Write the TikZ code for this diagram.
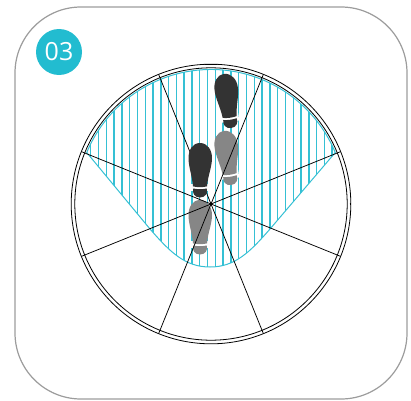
\documentclass[tikz,border=0pt]{standalone}
\usepackage{fontspec}
\setmainfont{Open Sans}
\definecolor{tealc}{HTML}{22BCD0}
\definecolor{hatchc}{HTML}{35C0D4}
\definecolor{footdark}{HTML}{333333}
\definecolor{footgrey}{HTML}{868686}
\definecolor{framec}{HTML}{9C9C9C}
\tikzset{
  x=1pt,y=1pt,
  frame/.style={draw=framec,line width=1.2pt,rounded corners=66pt},
  badge/.style={circle,fill=tealc,minimum size=46pt,inner sep=0pt,text=white},
  ringline/.style={draw=black,line width=.8pt},
  spoke/.style={draw=black,line width=.75pt},
  hatch/.style={draw=hatchc,line width=1.4pt},
  outline/.style={draw=hatchc,line width=1pt},
  pics/foot/.style={code={
    \fill[white] (-9,-41) rectangle (9,-48);
    \fill[#1] (0,0) .. controls (7.5,0) and (12,-7) .. (12,-15)
      .. controls (12,-24) and (8,-32) .. (7,-43.4)
      .. controls (3,-44.4) and (-3,-44.4) .. (-7,-43.4)
      .. controls (-8,-32) and (-11.5,-24) .. (-11.5,-15)
      .. controls (-11.5,-7) and (-7.5,0) .. (0,0) -- cycle;
    \fill[#1] (-6.8,-45.5) .. controls (-2,-46.4) and (2,-46.4) .. (6.8,-45.5)
      .. controls (8,-50) and (5.5,-54.5) .. (0,-54.5)
      .. controls (-5.5,-54.5) and (-8,-50) .. (-6.8,-45.5) -- cycle;
  }}
}
\begin{document}
\begin{tikzpicture}
\useasboundingbox (0,0) rectangle (411,400);
\draw[frame] (15,1) rectangle (407,393);
\node[badge,font=\fontsize{25}{25}\selectfont] (num) at (59,348) {03};
\coordinate (c) at (211,196);
% hatching
\begin{scope}
\clip (211,196) ++(157.5:134.5) arc[start angle=157.5,end angle=22.5,radius=134.5]
  -- (270,171) .. controls (250,148) and (235,133) .. (210,133)
  .. controls (185,133) and (170,148) .. (150,171) -- cycle;
\foreach \k in {0,...,31}{
  \draw[hatch] ({90.7+\k*7.79},60) -- ({90.7+\k*7.79},340);
}
\end{scope}
\draw[outline] (211,196) ++(157.5:134.5) arc[start angle=157.5,end angle=22.5,radius=134.5]
  -- (270,171) .. controls (250,148) and (235,133) .. (210,133)
  .. controls (185,133) and (170,148) .. (150,171) -- cycle;
% grey feet
\pic[rotate=7.5] at (224,269) {foot=footgrey};
\pic at (200,200) {foot=footgrey};
% rings and spokes
\draw[ringline] (c) circle[radius=139.8];
\draw[ringline] (c) circle[radius=136.2];
\foreach \a in {22,68,112,158,202,248,292,338}{
  \draw[spoke] (c) -- ++(\a:139.8);
}
\draw[line width=1.2pt] (349.5,196) -- (350.8,196);
\draw[line width=1.2pt] (205,335.9) -- (217,335.9);
\fill (c) circle[radius=1.6];
% dark feet
\pic[rotate=7.5] at (224,326) {foot=footdark};
\pic at (200,257) {foot=footdark};
\end{tikzpicture}
\end{document}
